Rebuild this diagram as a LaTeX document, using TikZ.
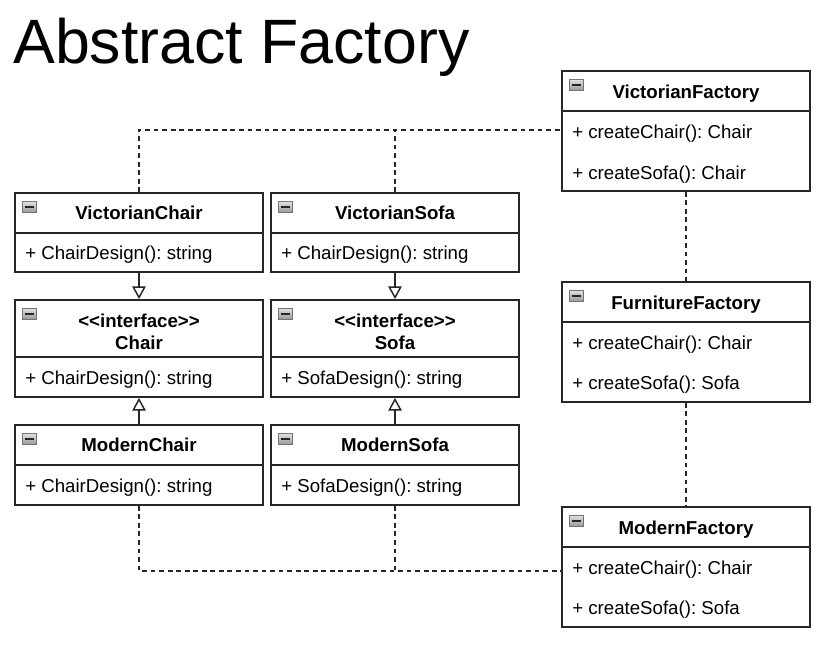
\documentclass[tikz,border=0pt]{standalone}
\usepackage{fontspec}
\setmainfont{Liberation Sans}
\usetikzlibrary{arrows.meta,fit}
\frenchspacing
\tikzset{
  classbox/.style={draw=black!85, line width=1.3pt, inner sep=0pt, fill=none},
  divider/.style={draw=black!85, line width=1.3pt},
  headtxt/.style={font=\fontsize{14pt}{16pt}\selectfont\bfseries, inner sep=0pt, anchor=base},
  rowtxt/.style={font=\fontsize{14pt}{16pt}\selectfont, inner sep=0pt, anchor=base west},
  dep/.style={draw=black!85, line width=1.1pt, dash pattern=on 3.6pt off 2.8pt},
  inherit/.style={draw=black!85, line width=1.1pt, -{Triangle[open, width=10pt, length=9.5pt]}},
  minusicon/.style={draw=black!55, top color=black!12, bottom color=black!40, line width=0.7pt, minimum width=10.5pt, minimum height=8pt, inner sep=0pt}
}
\newcommand{\mkicon}[3]{%
  \node[minusicon, anchor=north west] (#1) at (#2,#3) {};
  \draw[black!85, line width=1.8pt] (#1.center) ++(-3.6pt,0) -- ++(7.2pt,0);}
\begin{document}
\begin{tikzpicture}[x=0.75pt,y=-0.75pt]
\useasboundingbox (0,0) rectangle (838,654);

% title
\node[font=\fontsize{47pt}{50pt}\selectfont, inner sep=0pt, anchor=base west] (title) at (13,63.5) {Abstract Factory};

% VictorianChair
\node[classbox, fit={(15,193)(263,272)}] (vc) {};
\draw[divider] (15,233) -- (263,233);
\mkicon{vci}{22}{201}
\node[headtxt] (vch) at (139,219.5) {VictorianChair};
\node[rowtxt] (vcr) at (25,259.5) {+ ChairDesign(): string};

% VictorianSofa
\node[classbox, fit={(271,193)(519,272)}] (vs) {};
\draw[divider] (271,233) -- (519,233);
\mkicon{vsi}{278}{201}
\node[headtxt] (vsh) at (395,219.5) {VictorianSofa};
\node[rowtxt] (vsr) at (281,259.5) {+ ChairDesign(): string};

% Chair interface
\node[classbox, fit={(15,300)(263,397)}] (ch) {};
\draw[divider] (15,357) -- (263,357);
\mkicon{chi}{22}{308}
\node[headtxt] (chh1) at (139,327.5) {<{}<interface>{}>};
\node[headtxt] (chh2) at (139,349.5) {Chair};
\node[rowtxt] (chr) at (25,384) {+ ChairDesign(): string};

% Sofa interface
\node[classbox, fit={(271,300)(519,397)}] (so) {};
\draw[divider] (271,357) -- (519,357);
\mkicon{soi}{278}{308}
\node[headtxt] (soh1) at (395,327.5) {<{}<interface>{}>};
\node[headtxt] (soh2) at (395,349.5) {Sofa};
\node[rowtxt] (sor) at (281,384) {+ SofaDesign(): string};

% ModernChair
\node[classbox, fit={(15,425)(263,505)}] (mc) {};
\draw[divider] (15,465) -- (263,465);
\mkicon{mci}{22}{433}
\node[headtxt] (mch) at (139,451.5) {ModernChair};
\node[rowtxt] (mcr) at (25,492.5) {+ ChairDesign(): string};

% ModernSofa
\node[classbox, fit={(271,425)(519,505)}] (ms) {};
\draw[divider] (271,465) -- (519,465);
\mkicon{msi}{278}{433}
\node[headtxt] (msh) at (395,451.5) {ModernSofa};
\node[rowtxt] (msr) at (281,492.5) {+ SofaDesign(): string};

% VictorianFactory
\node[classbox, fit={(562,71)(810,191)}] (vf) {};
\draw[divider] (562,111) -- (810,111);
\mkicon{vfi}{569}{79}
\node[headtxt] (vfh) at (686,98.5) {VictorianFactory};
\node[rowtxt] (vfr1) at (572,138.5) {+ createChair(): Chair};
\node[rowtxt] (vfr2) at (572,179.5) {+ createSofa(): Chair};

% FurnitureFactory
\node[classbox, fit={(562,282)(810,402)}] (ff) {};
\draw[divider] (562,322) -- (810,322);
\mkicon{ffi}{569}{290}
\node[headtxt] (ffh) at (686,309.5) {FurnitureFactory};
\node[rowtxt] (ffr1) at (572,349.5) {+ createChair(): Chair};
\node[rowtxt] (ffr2) at (572,389.5) {+ createSofa(): Sofa};

% ModernFactory
\node[classbox, fit={(562,507)(810,627)}] (mf) {};
\draw[divider] (562,547) -- (810,547);
\mkicon{mfi}{569}{515}
\node[headtxt] (mfh) at (686,534.5) {ModernFactory};
\node[rowtxt] (mfr1) at (572,574.5) {+ createChair(): Chair};
\node[rowtxt] (mfr2) at (572,614.5) {+ createSofa(): Sofa};

% inheritance
\draw[inherit] (vc.south) -- (ch.north);
\draw[inherit] (vs.south) -- (so.north);
\draw[inherit] (mc.north) -- (ch.south);
\draw[inherit] (ms.north) -- (so.south);

% dependencies
\coordinate (vtop) at (139,130);
\draw[dep] (vc.north) -- (vtop) -- (vtop -| vf.west);
\draw[dep] (vs.north) -- (vs.north |- vtop);
\coordinate (mbot) at (139,571);
\draw[dep] (mc.south) -- (mbot) -- (mbot -| mf.west);
\draw[dep] (ms.south) -- (ms.south |- mbot);
\draw[dep] (vf.south) -- (ff.north);
\draw[dep] (ff.south) -- (mf.north);
\end{tikzpicture}
\end{document}
